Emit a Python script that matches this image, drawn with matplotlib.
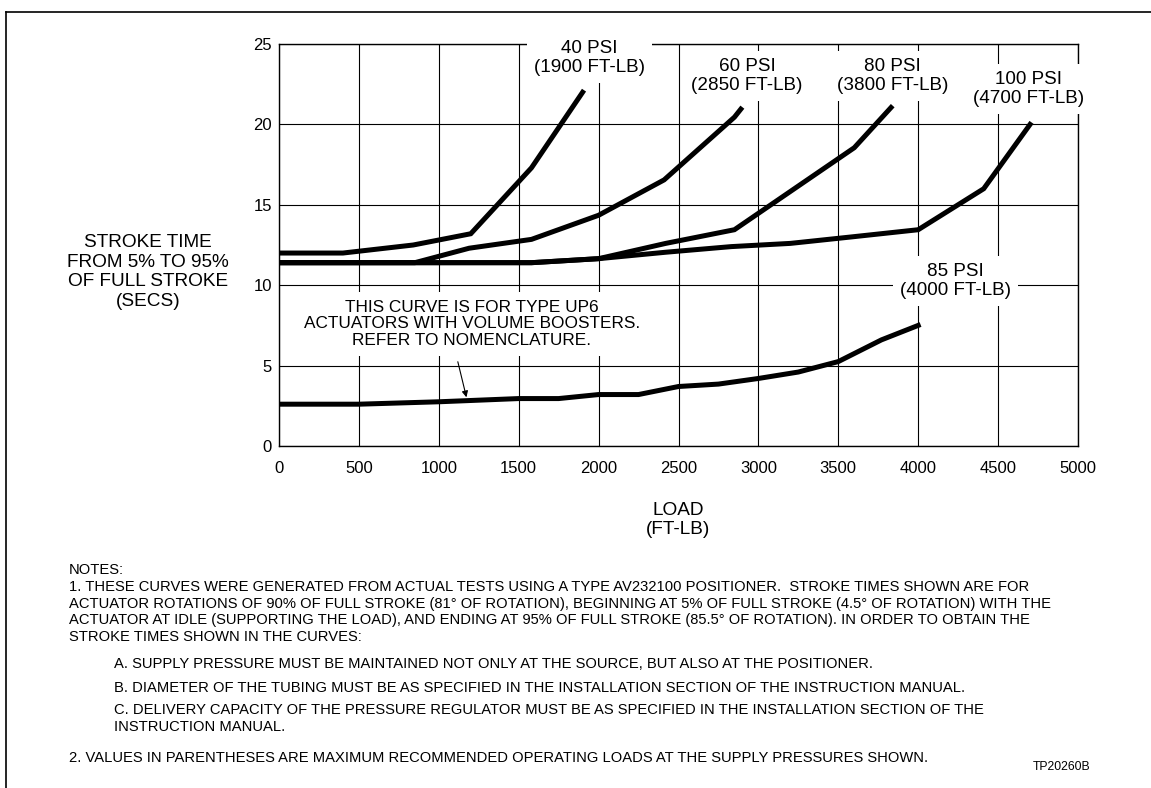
import matplotlib.pyplot as plt
from matplotlib.lines import Line2D

plt.rcParams['font.family'] = ['Liberation Sans', 'DejaVu Sans']

# stroke time curves (load in FT-LB, time in seconds)
load_40 = [0, 400, 840, 1200, 1580, 1900]
time_40 = [12.0, 12.0, 12.5, 13.2, 17.3, 22.0]

load_60 = [0, 850, 1190, 1580, 2000, 2410, 2850, 2890]
time_60 = [11.4, 11.4, 12.3, 12.85, 14.35, 16.55, 20.45, 20.95]

load_80 = [0, 1580, 2000, 2420, 2850, 3600, 3830]
time_80 = [11.4, 11.4, 11.65, 12.6, 13.45, 18.55, 21.05]

load_100 = [0, 1580, 2000, 2420, 2830, 3200, 3580, 4000, 4410, 4700]
time_100 = [11.4, 11.4, 11.65, 12.05, 12.4, 12.6, 13.0, 13.45, 16.0, 20.0]

load_85 = [0, 500, 1000, 1500, 1750, 2000, 2250, 2500, 2750, 3000, 3250, 3500, 3770, 4000]
time_85 = [2.6, 2.6, 2.75, 2.95, 2.95, 3.2, 3.2, 3.7, 3.85, 4.2, 4.6, 5.25, 6.6, 7.5]

curve_labels = ['40 PSI\n(1900 FT-LB)', '60 PSI\n(2850 FT-LB)', '80 PSI\n(3800 FT-LB)',
                '100 PSI\n(4700 FT-LB)', '85 PSI\n(4000 FT-LB)']
x_ticks = [0, 500, 1000, 1500, 2000, 2500, 3000, 3500, 4000, 4500, 5000]
y_ticks = [0, 5, 10, 15, 20, 25]

notes_title = 'NOTES:'
note_1 = ['1. THESE CURVES WERE GENERATED FROM ACTUAL TESTS USING A TYPE AV232100 POSITIONER.  STROKE TIMES SHOWN ARE FOR',
          'ACTUATOR ROTATIONS OF 90% OF FULL STROKE (81\u00b0 OF ROTATION), BEGINNING AT 5% OF FULL STROKE (4.5\u00b0 OF ROTATION) WITH THE',
          'ACTUATOR AT IDLE (SUPPORTING THE LOAD), AND ENDING AT 95% OF FULL STROKE (85.5\u00b0 OF ROTATION). IN ORDER TO OBTAIN THE',
          'STROKE TIMES SHOWN IN THE CURVES:']
note_a = 'A. SUPPLY PRESSURE MUST BE MAINTAINED NOT ONLY AT THE SOURCE, BUT ALSO AT THE POSITIONER.'
note_b = 'B. DIAMETER OF THE TUBING MUST BE AS SPECIFIED IN THE INSTALLATION SECTION OF THE INSTRUCTION MANUAL.'
note_c = ['C. DELIVERY CAPACITY OF THE PRESSURE REGULATOR MUST BE AS SPECIFIED IN THE INSTALLATION SECTION OF THE',
          'INSTRUCTION MANUAL.']
note_2 = '2. VALUES IN PARENTHESES ARE MAXIMUM RECOMMENDED OPERATING LOADS AT THE SUPPLY PRESSURES SHOWN.'

W, H = 1151, 788
fig = plt.figure(figsize=(W / 100, H / 100), dpi=100)
ax = fig.add_axes([279 / W, 1 - 446 / H, 799 / W, 402 / H])

# the curves
for xs, ys in [(load_40, time_40), (load_60, time_60), (load_80, time_80),
               (load_100, time_100), (load_85, time_85)]:
    ax.plot(xs, ys, color='black', lw=3.6, solid_joinstyle='miter', zorder=2)

ax.set_xlim(0, 5000)
ax.set_ylim(0, 25)
ax.set_xticks(x_ticks)
ax.set_yticks(y_ticks)
ax.tick_params(length=0, labelsize=12)
ax.tick_params(axis='x', pad=11)
ax.tick_params(axis='y', pad=5)
ax.grid(color='black', lw=0.8)
ax.set_axisbelow(True)
for s in ax.spines.values():
    s.set_linewidth(1.0)

# curve labels with white boxes that break the grid
label_pos = [(1944, 24.1), (2928, 23.0), (3840, 23.0), (4692, 22.2), (4233, 10.27)]
for txt, (lx, ly) in zip(curve_labels, label_pos):
    ax.text(lx, ly, txt, ha='center', va='center', fontsize=13.6, linespacing=1.15,
            bbox=dict(facecolor='white', edgecolor='none', pad=5), zorder=4, clip_on=False)

# booster note with arrow
ax.text(1206, 7.59, 'THIS CURVE IS FOR TYPE UP6\nACTUATORS WITH VOLUME BOOSTERS.\nREFER TO NOMENCLATURE.',
        ha='center', va='center', fontsize=12.4, linespacing=1.1,
        bbox=dict(facecolor='white', edgecolor='none', pad=6), zorder=4)
ax.annotate('', xy=(1173, 3.03), xytext=(1119, 5.24),
            arrowprops=dict(arrowstyle='-|>', color='black', lw=0.8, mutation_scale=9,
                            shrinkA=0, shrinkB=0), zorder=4)

# axis titles
fig.text(148 / W, 1 - 272 / H, 'STROKE TIME\nFROM 5% TO 95%\nOF FULL STROKE\n(SECS)',
         ha='center', va='center', fontsize=13.7, linespacing=1.2)
fig.text(678 / W, 1 - 520 / H, 'LOAD\n(FT-LB)', ha='center', va='center', fontsize=13.7,
         linespacing=1.2)

# notes block
nfs = 10.6
step = 16.6
fig.text(69 / W, 1 - 570 / H, notes_title, ha='left', va='center', fontsize=nfs)
for i, line in enumerate(note_1):
    fig.text(69 / W, 1 - (587 + step * i) / H, line, ha='left', va='center', fontsize=nfs)
fig.text(114 / W, 1 - 664 / H, note_a, ha='left', va='center', fontsize=nfs)
fig.text(114 / W, 1 - 687.5 / H, note_b, ha='left', va='center', fontsize=nfs)
for i, line in enumerate(note_c):
    fig.text(114 / W, 1 - (710 + step * i) / H, line, ha='left', va='center', fontsize=nfs)
fig.text(69 / W, 1 - 758 / H, note_2, ha='left', va='center', fontsize=nfs)
fig.text(1090 / W, 1 - 767 / H, 'TP20260B', ha='right', va='center', fontsize=8.8)

# page frame (top and left edges)
fig.add_artist(Line2D([6 / W, 1], [1 - 12 / H, 1 - 12 / H], transform=fig.transFigure,
                      color='black', lw=1.2))
fig.add_artist(Line2D([6 / W, 6 / W], [1 - 12 / H, 0], transform=fig.transFigure,
                      color='black', lw=1.2))

fig.savefig('out.png', dpi=100, facecolor='white')
